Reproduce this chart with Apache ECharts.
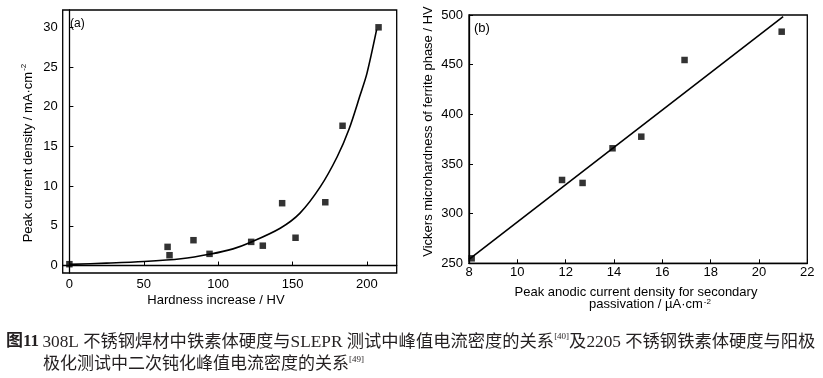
<!DOCTYPE html>
<html>
<head>
<meta charset="utf-8">
<script src="https://cdn.jsdelivr.net/npm/echarts@6/dist/echarts.min.js"></script>
<style>
html,body{margin:0;padding:0;background:#fff;}
#c{width:823px;height:378px;}
</style>
</head>
<body>
<div id="c"></div>
<script>
// ---- Panel (a): hardness increase vs peak current density ----
const aHardness = [0, 66, 67.3, 83.4, 94.2, 122.2, 130, 143, 152, 172, 183.6, 207.8];
const aCurrent  = [0.17, 2.35, 1.3, 3.19, 1.47, 2.98, 2.5, 7.85, 3.5, 7.97, 17.6, 30];
// fitted curve
const aCurveX = [0, 25, 50, 75, 95, 110, 121.5, 141.7, 155, 168.6, 180, 188, 195.5, 200, 206.5];
const aCurveY = [0.15, 0.3, 0.5, 0.85, 1.45, 2.1, 2.9, 4.7, 6.6, 9.9, 13.7, 17.2, 21.5, 24.2, 29.7];
const aXTicks = [0, 50, 100, 150, 200];
const aYTicks = [0, 5, 10, 15, 20, 25, 30];

// ---- Panel (b): peak anodic current density vs Vickers microhardness ----
const bCurrent  = [8.11, 11.85, 12.7, 13.94, 15.13, 16.92, 20.94];
const bHardness = [255, 333.9, 330.9, 365.8, 377.5, 454.7, 483.2];
const bLineX = [8, 21.0];
const bLineY = [254, 498.3];

const zip = (xs, ys) => xs.map((x, i) => [x, ys[i]]);

const FONT = 'Liberation Sans, Arial, sans-serif';
const INK = '#000';
const CAP = '#231f20';
const SERIF = 'Liberation Serif, Noto Sans CJK SC';

const axisLine = { show: true, lineStyle: { color: INK, width: 1.3 } };
const axisTick = { show: true, inside: true, length: 4, lineStyle: { color: INK, width: 1 } };
const axisLabel = { color: INK, fontSize: 13, fontFamily: FONT };

const chart = echarts.init(document.getElementById('c'), null, { renderer: 'canvas' });

chart.setOption({
  backgroundColor: '#fff',
  animation: false,
  grid: [
    { left: 62.7, right: 426.3, top: 10, bottom: 105, show: true, borderColor: INK, borderWidth: 1.3, backgroundColor: 'transparent' },
    { left: 469, right: 15.7, top: 15, bottom: 114.7, show: true, borderColor: INK, borderWidth: 1.3, backgroundColor: 'transparent' }
  ],
  xAxis: [
    {
      gridIndex: 0, type: 'value', min: -4.5, max: 220,
      axisLine, splitLine: { show: false },
      axisTick: Object.assign({}, axisTick, { customValues: aXTicks }),
      axisLabel: Object.assign({}, axisLabel, { customValues: aXTicks, margin: 5 })
    },
    {
      gridIndex: 1, type: 'value', min: 8, max: 22, interval: 2,
      axisLine, splitLine: { show: false }, axisTick,
      axisLabel: Object.assign({}, axisLabel, { margin: 3 })
    }
  ],
  yAxis: [
    {
      gridIndex: 0, type: 'value', min: -0.94, max: 32.18,
      axisLine, splitLine: { show: false },
      axisTick: Object.assign({}, axisTick, { customValues: aYTicks }),
      axisLabel: Object.assign({}, axisLabel, { customValues: aYTicks, margin: 5 })
    },
    {
      gridIndex: 1, type: 'value', min: 250, max: 500, interval: 50,
      axisLine, splitLine: { show: false }, axisTick,
      axisLabel: Object.assign({}, axisLabel, { margin: 6 })
    }
  ],
  series: [
    {
      type: 'line', xAxisIndex: 0, yAxisIndex: 0, data: zip(aCurveX, aCurveY),
      smooth: 0.3, showSymbol: false, lineStyle: { color: INK, width: 1.6 }, z: 2
    },
    {
      type: 'scatter', xAxisIndex: 0, yAxisIndex: 0, data: zip(aHardness, aCurrent),
      symbol: 'rect', symbolSize: 6.5, itemStyle: { color: INK }, z: 3
    },
    {
      type: 'line', xAxisIndex: 1, yAxisIndex: 1, data: zip(bLineX, bLineY),
      showSymbol: false, lineStyle: { color: INK, width: 1.6 }, z: 2
    },
    {
      type: 'scatter', xAxisIndex: 1, yAxisIndex: 1, data: zip(bCurrent, bHardness),
      symbol: 'rect', symbolSize: 6.5, itemStyle: { color: INK }, z: 3
    }
  ],
  graphic: [
    { type: 'text', left: 70, top: 18, style: { text: '(a)', font: '12px ' + FONT, fill: INK } },
    { type: 'text', left: 474, top: 22, style: { text: '(b)', font: '13px ' + FONT, fill: INK } },
    {
      type: 'text', x: 216, y: 300,
      style: { text: 'Hardness increase / HV', font: '13px ' + FONT, fill: INK, align: 'center', verticalAlign: 'middle' }
    },
    {
      type: 'text', x: 28, y: 153, rotation: Math.PI / 2,
      style: {
        text: '{n|Peak current density / mA·cm}{s|-2}', align: 'center', verticalAlign: 'middle',
        rich: {
          n: { fontSize: 13, fontFamily: FONT, fill: INK, lineHeight: 16 },
          s: { fontSize: 8, fontFamily: FONT, fill: INK, verticalAlign: 'top', lineHeight: 16, padding: [0, 0, 0, 1] }
        }
      }
    },
    {
      type: 'text', x: 428, y: 131.5, rotation: Math.PI / 2,
      style: { text: 'Vickers microhardness of ferrite phase / HV', font: '13px ' + FONT, fill: INK, align: 'center', verticalAlign: 'middle' }
    },
    {
      type: 'text', x: 636, y: 292.5,
      style: { text: 'Peak anodic current density for secondary', font: '13px ' + FONT, fill: INK, align: 'center', verticalAlign: 'middle' }
    },
    {
      type: 'text', x: 650, y: 304.5,
      style: {
        text: '{n|passivation / µA·cm}{s|-2}', align: 'center', verticalAlign: 'middle',
        rich: {
          n: { fontSize: 13, fontFamily: FONT, fill: INK, lineHeight: 14 },
          s: { fontSize: 8, fontFamily: FONT, fill: INK, verticalAlign: 'top', lineHeight: 14, padding: [0, 0, 0, 1] }
        }
      }
    },
    {
      type: 'text', x: 6, y: 342,
      style: {
        text: '{b|图11} {t|308L 不锈钢焊材中铁素体硬度与SLEPR 测试中峰值电流密度的关系}{s|[40]}{t|及2205 不锈钢铁素体硬度与阳极}',
        verticalAlign: 'middle',
        rich: {
          b: { fontSize: 17, fontWeight: 'bold', fontFamily: SERIF, fill: CAP, lineHeight: 20 },
          t: { fontSize: 17.3, fontFamily: SERIF, fill: CAP, lineHeight: 20 },
          s: { fontSize: 9, fontFamily: 'Liberation Serif', fill: CAP, verticalAlign: 'top', lineHeight: 20 }
        }
      }
    },
    {
      type: 'text', x: 43, y: 365,
      style: {
        text: '{t|极化测试中二次钝化峰值电流密度的关系}{s|[49]}',
        verticalAlign: 'middle',
        rich: {
          t: { fontSize: 17, fontFamily: SERIF, fill: CAP, lineHeight: 20 },
          s: { fontSize: 9, fontFamily: 'Liberation Serif', fill: CAP, verticalAlign: 'top', lineHeight: 20 }
        }
      }
    }
  ]
});
</script>
</body>
</html>
